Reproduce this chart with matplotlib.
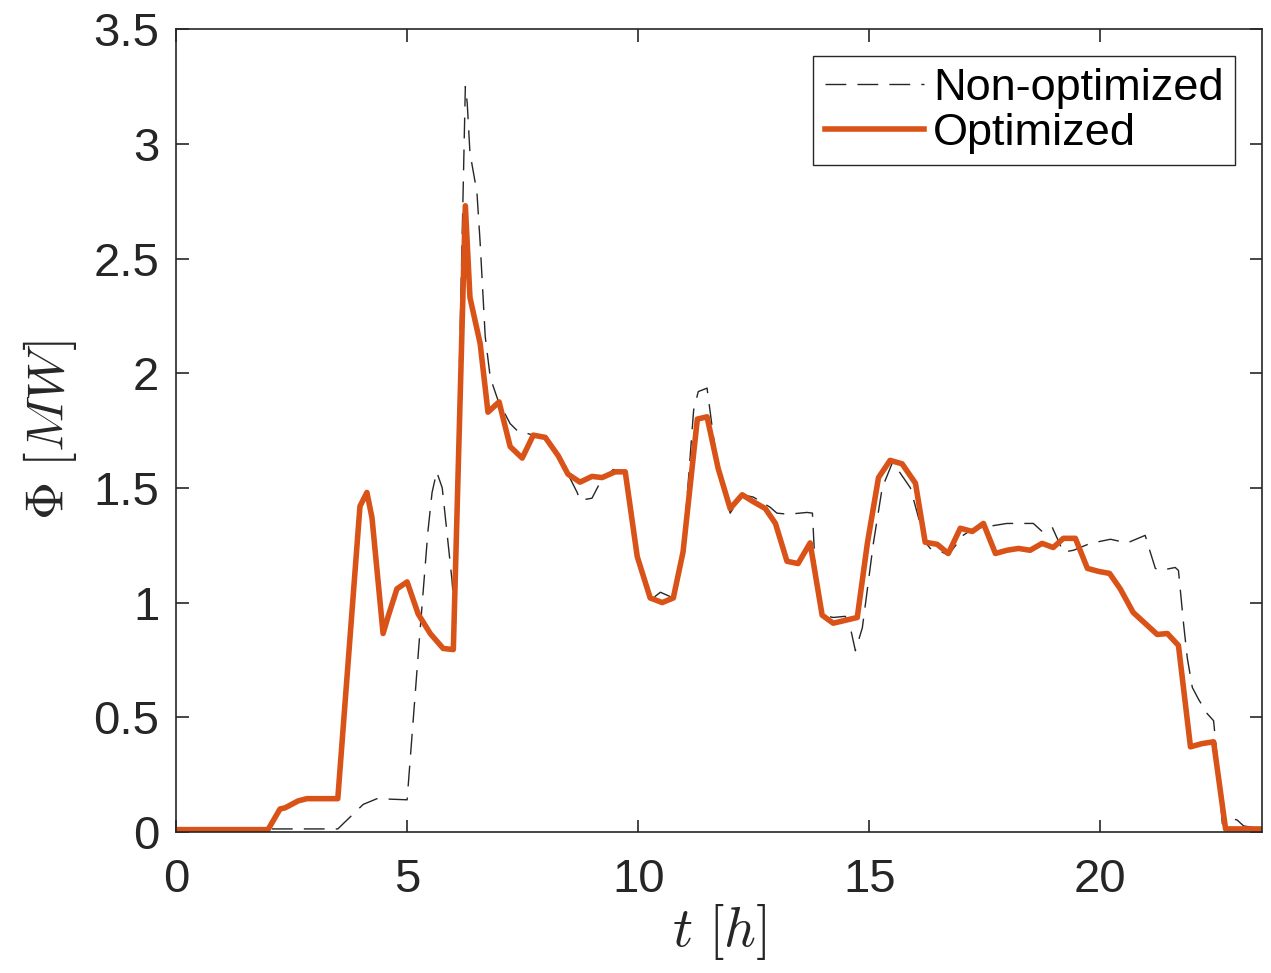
import matplotlib
matplotlib.use("Agg")
import matplotlib.pyplot as plt
import numpy as np

# heat demand, non-optimized vs optimized schedule
base_t = [0.0, 3.5, 4.05, 4.35, 5.0, 5.25, 5.45, 5.54, 5.64, 5.76,
          5.97, 6.02, 6.26, 6.30, 6.36, 6.51, 6.58, 6.69, 6.8, 6.97,
          7.23, 7.38, 7.73, 7.99, 8.27, 8.48, 8.68, 8.74, 9.0, 9.18,
          9.46, 9.72, 9.98, 10.26, 10.48, 10.76, 10.97, 11.2, 11.3, 11.49,
          11.63, 11.73, 11.99, 12.25, 12.49, 12.86, 13.0, 13.25, 13.65, 13.77,
          13.83, 13.98, 14.22, 14.48, 14.58, 14.7, 14.85, 15.09, 15.28, 15.5,
          15.6, 15.89, 16.21, 16.32, 16.5, 16.71, 17.03, 17.23, 17.73, 17.98,
          18.23, 18.55, 18.74, 18.96, 19.2, 19.42, 19.78, 20.22, 20.58, 20.97,
          21.08, 21.19, 21.3, 21.62, 21.69, 21.8, 21.88, 21.99, 22.12, 22.31,
          22.45, 22.53, 22.64, 22.86, 22.96, 23.1, 23.5]
base_v = [0.013, 0.013, 0.12, 0.145, 0.14, 0.80, 1.31, 1.48, 1.57, 1.50,
          1.10, 0.97, 3.25, 3.18, 2.96, 2.79, 2.57, 2.16, 1.98, 1.88,
          1.78, 1.75, 1.73, 1.72, 1.64, 1.56, 1.48, 1.446, 1.455, 1.525,
          1.58, 1.57, 1.2, 1.01, 1.045, 1.02, 1.22, 1.84, 1.92, 1.935,
          1.72, 1.585, 1.39, 1.47, 1.46, 1.415, 1.39, 1.385, 1.393, 1.39,
          1.15, 0.945, 0.935, 0.94, 0.9, 0.79, 0.89, 1.26, 1.5, 1.61,
          1.585, 1.5, 1.263, 1.236, 1.228, 1.206, 1.293, 1.32, 1.337, 1.345,
          1.345, 1.345, 1.31, 1.328, 1.22, 1.228, 1.258, 1.276, 1.26, 1.293,
          1.22, 1.149, 1.14, 1.153, 1.14, 0.909, 0.76, 0.63, 0.58, 0.516,
          0.485, 0.32, 0.035, 0.057, 0.052, 0.026, 0.013]

opt_t = [0.0, 1.99, 2.25, 2.36, 2.64, 2.83, 3.5, 3.98, 4.13, 4.24,
         4.48, 4.59, 4.78, 5.0, 5.24, 5.5, 5.78, 6.0, 6.26, 6.36,
         6.58, 6.75, 6.99, 7.23, 7.49, 7.73, 7.99, 8.27, 8.48, 8.74,
         9.0, 9.22, 9.5, 9.72, 9.98, 10.26, 10.52, 10.76, 10.97, 11.28,
         11.49, 11.73, 11.99, 12.25, 12.49, 12.75, 12.97, 13.22, 13.46, 13.72,
         13.98, 14.22, 14.74, 14.96, 15.2, 15.45, 15.71, 16.0, 16.21, 16.47,
         16.71, 16.97, 17.23, 17.47, 17.73, 17.98, 18.23, 18.48, 18.74, 18.98,
         19.2, 19.46, 19.72, 19.96, 20.2, 20.43, 20.71, 20.97, 21.23, 21.45,
         21.69, 21.95, 22.2, 22.45, 22.71, 23.5]
opt_v = [0.01, 0.01, 0.10, 0.105, 0.135, 0.145, 0.145, 1.42, 1.48, 1.37,
         0.865, 0.94, 1.06, 1.09, 0.95, 0.865, 0.80, 0.795, 2.73, 2.33,
         2.13, 1.83, 1.875, 1.68, 1.63, 1.73, 1.72, 1.64, 1.56, 1.525,
         1.55, 1.545, 1.57, 1.57, 1.2, 1.02, 1.0, 1.02, 1.22, 1.80,
         1.81, 1.585, 1.41, 1.47, 1.44, 1.41, 1.345, 1.18, 1.17, 1.26,
         0.945, 0.91, 0.935, 1.26, 1.545, 1.62, 1.605, 1.52, 1.263, 1.254,
         1.214, 1.324, 1.31, 1.345, 1.214, 1.228, 1.236, 1.228, 1.258, 1.24,
         1.28, 1.28, 1.149, 1.136, 1.127, 1.06, 0.957, 0.909, 0.861, 0.865,
         0.813, 0.371, 0.385, 0.393, 0.013, 0.013]

AX_COLOR = "#262626"
plt.rcParams["font.family"] = ["Liberation Sans", "DejaVu Sans"]
plt.rcParams["mathtext.fontset"] = "cm"

fig = plt.figure(figsize=(12.71, 9.73), dpi=100)
ax = fig.add_axes([0.1385, 0.145, 0.8545, 0.825])

ax.plot(base_t, base_v, color=AX_COLOR, lw=1.0, ls=(0, (15, 8)), label="Non-optimized")
ax.plot(opt_t, opt_v, color="#D95319", lw=4.0, label="Optimized", solid_joinstyle="round")

ax.set_xlim(0, 23.5)
ax.set_ylim(0, 3.5)
ax.set_xticks(np.arange(0, 21, 5))
ax.set_yticks(np.arange(0, 3.51, 0.5))
ax.set_yticklabels(["0", "0.5", "1", "1.5", "2", "2.5", "3", "3.5"])
ax.tick_params(direction="in", length=9, width=1.2, colors=AX_COLOR,
               labelsize=34, top=True, right=True)
ax.tick_params(axis="y", pad=12)
ax.tick_params(axis="x", pad=19)
for s in ax.spines.values():
    s.set_color(AX_COLOR)
    s.set_linewidth(1.2)

ax.set_xlabel(r"$t\ [h]$", fontsize=40, color=AX_COLOR, labelpad=0)
ax.set_ylabel(r"$\Phi\ [MW]$", fontsize=38, color=AX_COLOR, labelpad=10)

leg = ax.legend(loc="upper right", fontsize=32.5, handlelength=2.2, handletextpad=0.2,
                labelspacing=0.1, borderpad=0.25, borderaxespad=0.6,
                fancybox=False, framealpha=1)
leg.get_frame().set_edgecolor(AX_COLOR)
leg.get_frame().set_linewidth(1.0)

fig.savefig("out.png", dpi=100)
